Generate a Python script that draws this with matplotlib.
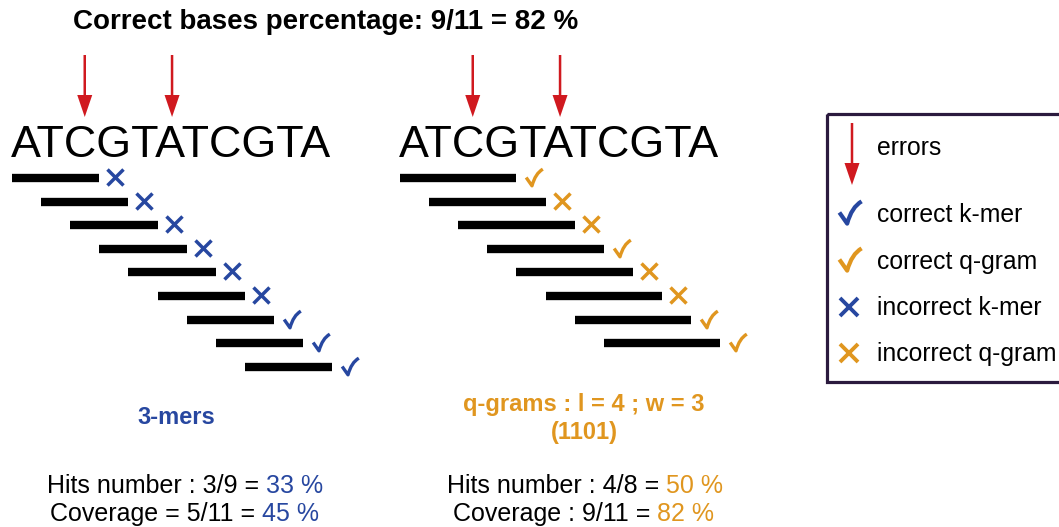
import matplotlib.pyplot as plt
from matplotlib.patches import Rectangle
from matplotlib.path import Path

plt.rcParams['font.family'] = ['Liberation Sans', 'DejaVu Sans']

# data
sequence = "ATCGTATCGTA"
error_idx = [2, 5]
kmer_len = 3
kmer_starts = [0, 1, 2, 3, 4, 5, 6, 7, 8]
kmer_hits = [0, 0, 0, 0, 0, 0, 1, 1, 1]
qgram_len = 4
qgram_starts = [0, 1, 2, 3, 4, 5, 6, 7]
qgram_hits = [1, 0, 0, 1, 0, 0, 1, 1]
legend_labels = ['errors', 'correct k-mer', 'correct q-gram', 'incorrect k-mer', 'incorrect q-gram']

BLUE = '#2747a0'
ORANGE = '#e0961f'
RED = '#d0191f'

# hand-drawn looking tick mark
CHECK = Path([(-0.5, 0.0), (-0.15, -0.5), (0.05, 0.25), (0.5, 0.5)],
             [Path.MOVETO, Path.LINETO, Path.CURVE3, Path.CURVE3])

fig = plt.figure(figsize=(10.59, 5.27), dpi=100)
ax = fig.add_axes([0, 0, 1, 1])
ax.set_xlim(0, 1059)
ax.set_ylim(527, 0)
ax.axis('off')

step = 29.1
row_h = 23.6
y0 = 178


def check(x, y, color, ms=12, mew=2.4):
    ax.plot(x, y, marker=CHECK, ms=ms, mew=mew, mfc='none', mec=color, ls='none')


def cross(x, y, color, ms=11.5, mew=2.5):
    ax.plot(x, y, marker='x', ms=ms, mew=mew, color=color, ls='none')


def panel(x0, starts, hits, length, color):
    ax.text(x0 - 1, 157, sequence, fontsize=32.3, va='baseline', ha='left')
    for i in error_idx:
        xc = x0 + (i + 0.5) * step
        ax.arrow(xc, 55, 0, 62, width=2.5, head_width=15, head_length=22,
                 length_includes_head=True, color=RED, lw=0)
    for r, (s, h) in enumerate(zip(starts, hits)):
        y = y0 + r * row_h
        xa = x0 + s * step
        xb = xa + length * step
        ax.plot([xa, xb], [y, y], color='black', lw=6, solid_capstyle='butt')
        if h:
            check(xb + 18, y - 1, color)
        else:
            cross(xb + 16, y - 1, color)


panel(12, kmer_starts, kmer_hits, kmer_len, BLUE)
panel(400, qgram_starts, qgram_hits, qgram_len, ORANGE)

ax.text(326, 22, 'Correct bases percentage: 9/11 = 82 %', fontsize=20,
        fontweight='bold', ha='center', va='center')

ax.text(176, 417, '3-mers', fontsize=17, fontweight='bold', color=BLUE, ha='center', va='center')
ax.text(584, 405, 'q-grams : l = 4 ; w = 3', fontsize=17, fontweight='bold', color=ORANGE,
        ha='center', va='center')
ax.text(584, 433, '(1101)', fontsize=17, fontweight='bold', color=ORANGE, ha='center', va='center')


def two_color(x, y, black, colored, color):
    t = ax.text(x, y, black, fontsize=18, ha='left', va='center')
    ax.annotate(colored, xy=(1, 0.5), xycoords=t, fontsize=18, color=color,
                ha='left', va='center')


two_color(47, 486, 'Hits number : 3/9 =', ' 33 %', BLUE)
two_color(50, 514, 'Coverage = 5/11 =', ' 45 %', BLUE)
two_color(447, 486, 'Hits number : 4/8 =', ' 50 %', ORANGE)
two_color(453, 514, 'Coverage : 9/11 =', ' 82 %', ORANGE)

# legend box
ax.add_patch(Rectangle((827, 114), 260, 268, fill=False, edgecolor='#2b1a3e', lw=2.3))
ax.arrow(852, 123, 0, 62, width=2.5, head_width=15, head_length=22,
         length_includes_head=True, color=RED, lw=0)
leg_y = [148, 215, 262, 308, 354]
check(850, 212, BLUE, ms=16, mew=3)
check(850, 259, ORANGE, ms=16, mew=3)
cross(849, 307, BLUE, ms=13.5, mew=2.8)
cross(849, 353, ORANGE, ms=13.5, mew=2.8)
for lab, y in zip(legend_labels, leg_y):
    ax.text(877, y, lab, fontsize=17.8, ha='left', va='center')

fig.savefig('out.png', dpi=100)
